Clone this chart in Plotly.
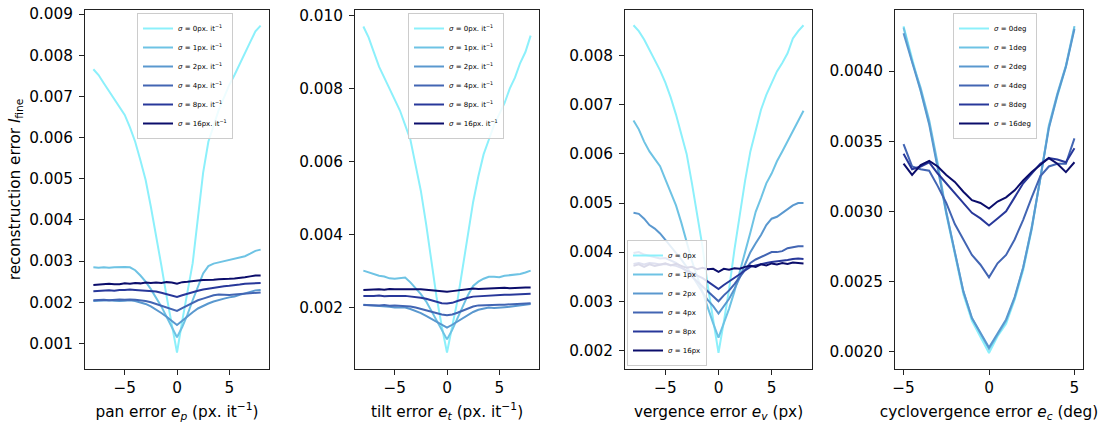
import plotly.graph_objects as go

# ---------------- data ----------------
err_8 = [-8.0, -7.5, -7.0, -6.5, -6.0, -5.5, -5.0, -4.5, -4.0, -3.5, -3.0, -2.5, -2.0, -1.5, -1.0, -0.5,
         0.0, 0.5, 1.0, 1.5, 2.0, 2.5, 3.0, 3.5, 4.0, 4.5, 5.0, 5.5, 6.0, 6.5, 7.0, 7.5, 8.0]
err_5 = [-5.0, -4.5, -4.0, -3.5, -3.0, -2.5, -2.0, -1.5, -1.0, -0.5, 0.0,
         0.5, 1.0, 1.5, 2.0, 2.5, 3.0, 3.5, 4.0, 4.5, 5.0]

sigma_levels = [0, 1, 2, 4, 8, 16]
colors = ['#8cf0fb', '#6ec3e4', '#5a98cf', '#4265b3', '#28389a', '#0b0d6b']

pan_s0 = [0.00766, 0.00752, 0.00732, 0.00712, 0.00695, 0.00675, 0.00655, 0.00625, 0.00590, 0.00545, 0.00497,
          0.00432, 0.00365, 0.00290, 0.00215, 0.00145, 0.00078, 0.00155, 0.00228, 0.00295, 0.00405, 0.00515,
          0.00590, 0.00632, 0.00668, 0.00698, 0.00728, 0.00752, 0.00780, 0.00808, 0.00832, 0.00858, 0.00872]
pan_s1 = [0.00285, 0.00284, 0.00285, 0.00284, 0.00285, 0.00286, 0.00286, 0.00285, 0.00278, 0.00265, 0.00250,
          0.00232, 0.00212, 0.00190, 0.00165, 0.00140, 0.00115, 0.00140, 0.00170, 0.00205, 0.00240, 0.00270,
          0.00288, 0.00294, 0.00297, 0.00300, 0.00303, 0.00305, 0.00308, 0.00312, 0.00318, 0.00325, 0.00328]
pan_s2 = [0.00203, 0.00204, 0.00204, 0.00205, 0.00204, 0.00203, 0.00204, 0.00205, 0.00203, 0.00200, 0.00196,
          0.00190, 0.00183, 0.00174, 0.00165, 0.00155, 0.00145, 0.00155, 0.00166, 0.00176, 0.00185, 0.00192,
          0.00197, 0.00202, 0.00206, 0.00209, 0.00212, 0.00214, 0.00218, 0.00222, 0.00226, 0.00229, 0.00230]
pan_s4 = [0.00205, 0.00206, 0.00206, 0.00205, 0.00206, 0.00207, 0.00206, 0.00207, 0.00206, 0.00205, 0.00203,
          0.00200, 0.00196, 0.00192, 0.00188, 0.00183, 0.00179, 0.00186, 0.00193, 0.00200, 0.00205, 0.00209,
          0.00213, 0.00217, 0.00219, 0.00218, 0.00218, 0.00219, 0.00220, 0.00222, 0.00222, 0.00223, 0.00224]
pan_s8 = [0.00227, 0.00228, 0.00228, 0.00229, 0.00228, 0.00230, 0.00230, 0.00231, 0.00230, 0.00229, 0.00229,
          0.00228, 0.00226, 0.00223, 0.00220, 0.00217, 0.00213, 0.00217, 0.00221, 0.00225, 0.00228, 0.00231,
          0.00233, 0.00236, 0.00238, 0.00239, 0.00240, 0.00241, 0.00243, 0.00245, 0.00246, 0.00247, 0.00247]
pan_s16 = [0.00242, 0.00243, 0.00243, 0.00245, 0.00244, 0.00244, 0.00246, 0.00245, 0.00247, 0.00246, 0.00248,
           0.00247, 0.00248, 0.00247, 0.00249, 0.00248, 0.00245, 0.00249, 0.00250, 0.00252, 0.00253, 0.00254,
           0.00254, 0.00255, 0.00256, 0.00256, 0.00257, 0.00258, 0.00259, 0.00261, 0.00263, 0.00265, 0.00265]

tilt_s0 = [0.00970, 0.00940, 0.00900, 0.00860, 0.00830, 0.00800, 0.00770, 0.00740, 0.00700, 0.00660, 0.00590,
           0.00520, 0.00430, 0.00330, 0.00230, 0.00150, 0.00078, 0.00150, 0.00220, 0.00310, 0.00400, 0.00490,
           0.00560, 0.00620, 0.00660, 0.00700, 0.00730, 0.00760, 0.00800, 0.00830, 0.00870, 0.00900, 0.00945]
tilt_s1 = [0.00302, 0.00297, 0.00293, 0.00288, 0.00286, 0.00281, 0.00280, 0.00281, 0.00283, 0.00270, 0.00255,
           0.00238, 0.00218, 0.00193, 0.00168, 0.00140, 0.00114, 0.00140, 0.00172, 0.00205, 0.00235, 0.00260,
           0.00272, 0.00280, 0.00285, 0.00285, 0.00284, 0.00288, 0.00289, 0.00291, 0.00293, 0.00297, 0.00302]
tilt_s2 = [0.00209, 0.00208, 0.00207, 0.00206, 0.00205, 0.00203, 0.00201, 0.00200, 0.00201, 0.00197, 0.00192,
           0.00186, 0.00178, 0.00170, 0.00162, 0.00154, 0.00146, 0.00154, 0.00163, 0.00172, 0.00181, 0.00189,
           0.00195, 0.00199, 0.00201, 0.00200, 0.00200, 0.00202, 0.00203, 0.00205, 0.00206, 0.00209, 0.00211]
tilt_s4 = [0.00208, 0.00207, 0.00208, 0.00207, 0.00208, 0.00206, 0.00207, 0.00206, 0.00206, 0.00204, 0.00201,
           0.00197, 0.00193, 0.00189, 0.00185, 0.00182, 0.00180, 0.00182, 0.00187, 0.00193, 0.00199, 0.00204,
           0.00207, 0.00208, 0.00209, 0.00208, 0.00209, 0.00209, 0.00210, 0.00209, 0.00211, 0.00211, 0.00213]
tilt_s8 = [0.00233, 0.00232, 0.00233, 0.00234, 0.00232, 0.00233, 0.00234, 0.00233, 0.00233, 0.00232, 0.00231,
           0.00228, 0.00225, 0.00221, 0.00217, 0.00213, 0.00212, 0.00214, 0.00219, 0.00224, 0.00228, 0.00231,
           0.00232, 0.00233, 0.00235, 0.00234, 0.00235, 0.00236, 0.00236, 0.00237, 0.00237, 0.00238, 0.00239]
tilt_s16 = [0.00249, 0.00250, 0.00249, 0.00251, 0.00250, 0.00252, 0.00251, 0.00252, 0.00251, 0.00251, 0.00252,
            0.00251, 0.00250, 0.00249, 0.00248, 0.00246, 0.00244, 0.00246, 0.00248, 0.00250, 0.00251, 0.00253,
            0.00252, 0.00253, 0.00254, 0.00253, 0.00254, 0.00255, 0.00254, 0.00255, 0.00255, 0.00256, 0.00256]

verg_s0 = [0.00862, 0.00850, 0.00833, 0.00812, 0.00790, 0.00770, 0.00745, 0.00715, 0.00680, 0.00642, 0.00600,
           0.00540, 0.00475, 0.00410, 0.00330, 0.00260, 0.00195, 0.00258, 0.00325, 0.00405, 0.00478, 0.00545,
           0.00605, 0.00650, 0.00690, 0.00720, 0.00745, 0.00768, 0.00785, 0.00805, 0.00835, 0.00850, 0.00862]
verg_s1 = [0.00668, 0.00650, 0.00625, 0.00605, 0.00590, 0.00575, 0.00548, 0.00520, 0.00495, 0.00460, 0.00418,
           0.00382, 0.00350, 0.00318, 0.00285, 0.00255, 0.00226, 0.00255, 0.00285, 0.00320, 0.00358, 0.00400,
           0.00440, 0.00482, 0.00510, 0.00540, 0.00560, 0.00585, 0.00605, 0.00625, 0.00645, 0.00665, 0.00688]
verg_s2 = [0.00480, 0.00478, 0.00468, 0.00455, 0.00448, 0.00438, 0.00425, 0.00412, 0.00398, 0.00385, 0.00370,
           0.00352, 0.00335, 0.00318, 0.00302, 0.00290, 0.00275, 0.00290, 0.00305, 0.00325, 0.00348, 0.00375,
           0.00400, 0.00418, 0.00435, 0.00455, 0.00468, 0.00472, 0.00480, 0.00488, 0.00495, 0.00500, 0.00500]
verg_s4 = [0.00398, 0.00400, 0.00395, 0.00392, 0.00390, 0.00387, 0.00388, 0.00383, 0.00378, 0.00370, 0.00360,
           0.00350, 0.00340, 0.00330, 0.00320, 0.00310, 0.00300, 0.00312, 0.00322, 0.00335, 0.00350, 0.00365,
           0.00378, 0.00385, 0.00390, 0.00395, 0.00400, 0.00400, 0.00402, 0.00408, 0.00410, 0.00412, 0.00412]
verg_s8 = [0.00376, 0.00378, 0.00375, 0.00378, 0.00377, 0.00375, 0.00376, 0.00374, 0.00372, 0.00368, 0.00363,
           0.00358, 0.00352, 0.00347, 0.00340, 0.00333, 0.00325, 0.00333, 0.00340, 0.00348, 0.00355, 0.00363,
           0.00370, 0.00373, 0.00376, 0.00378, 0.00380, 0.00381, 0.00383, 0.00384, 0.00386, 0.00387, 0.00386]
verg_s16 = [0.00372, 0.00375, 0.00370, 0.00375, 0.00372, 0.00375, 0.00377, 0.00373, 0.00376, 0.00372, 0.00368,
            0.00370, 0.00365, 0.00368, 0.00365, 0.00366, 0.00360, 0.00366, 0.00364, 0.00367, 0.00366, 0.00370,
            0.00372, 0.00370, 0.00375, 0.00373, 0.00377, 0.00375, 0.00378, 0.00376, 0.00379, 0.00378, 0.00377]

cyc_s0 = [0.00432, 0.00408, 0.00386, 0.00363, 0.00332, 0.00298, 0.00270, 0.00241, 0.00222, 0.00211, 0.00199,
          0.00211, 0.00220, 0.00237, 0.00258, 0.00287, 0.00322, 0.00360, 0.00382, 0.00403, 0.00431]
cyc_s1 = [0.00431, 0.00407, 0.00388, 0.00365, 0.00334, 0.00300, 0.00271, 0.00243, 0.00224, 0.00213, 0.00202,
          0.00212, 0.00222, 0.00238, 0.00260, 0.00289, 0.00323, 0.00361, 0.00384, 0.00404, 0.00432]
cyc_s2 = [0.00427, 0.00406, 0.00386, 0.00362, 0.00331, 0.00299, 0.00271, 0.00243, 0.00224, 0.00214, 0.00203,
          0.00213, 0.00223, 0.00239, 0.00260, 0.00288, 0.00322, 0.00359, 0.00383, 0.00403, 0.00430]
cyc_s4 = [0.00348, 0.00332, 0.00330, 0.00329, 0.00318, 0.00306, 0.00291, 0.00280, 0.00269, 0.00262, 0.00253,
          0.00263, 0.00269, 0.00280, 0.00294, 0.00310, 0.00325, 0.00332, 0.00334, 0.00334, 0.00352]
cyc_s8 = [0.00341, 0.00330, 0.00332, 0.00335, 0.00327, 0.00320, 0.00313, 0.00306, 0.00299, 0.00295, 0.00290,
          0.00295, 0.00300, 0.00310, 0.00320, 0.00327, 0.00334, 0.00338, 0.00337, 0.00335, 0.00345]
cyc_s16 = [0.00334, 0.00326, 0.00333, 0.00336, 0.00332, 0.00326, 0.00321, 0.00314, 0.00308, 0.00306, 0.00302,
           0.00307, 0.00310, 0.00315, 0.00322, 0.00328, 0.00333, 0.00338, 0.00334, 0.00328, 0.00335]

x_titles = ["pan error <i>e</i><sub><i>p</i></sub> (px. it<sup>−1</sup>)",
            "tilt error <i>e</i><sub><i>t</i></sub> (px. it<sup>−1</sup>)",
            "vergence error <i>e</i><sub><i>v</i></sub> (px)",
            "cyclovergence error <i>e</i><sub><i>c</i></sub> (deg)"]
y_title = "reconstruction error <i>l</i><sub>fine</sub>"
unit_labels = ["px. it<sup>−1</sup>", "px. it<sup>−1</sup>", "px", "deg"]

panels = [
    (err_8, [pan_s0, pan_s1, pan_s2, pan_s4, pan_s8, pan_s16]),
    (err_8, [tilt_s0, tilt_s1, tilt_s2, tilt_s4, tilt_s8, tilt_s16]),
    (err_8, [verg_s0, verg_s1, verg_s2, verg_s4, verg_s8, verg_s16]),
    (err_5, [cyc_s0, cyc_s1, cyc_s2, cyc_s4, cyc_s8, cyc_s16]),
]

# ---------------- layout geometry ----------------
# the page body margin is removed by a post script, so screen pixels == figure pixels
W, H = 1106, 426
left_scr, right_scr, top_scr, bottom_scr = 85, 1083, 10, 369
ML = left_scr
MT = top_scr
MR = W - right_scr
MB = H - bottom_scr
PW = W - ML - MR
PH = H - MT - MB
px_left = [85, 355, 625, 895]
px_right = [269, 539, 812, 1083]
x_ranges = [[-8.8, 8.8], [-8.8, 8.8], [-8.8, 8.8], [-5.5, 5.5]]
y_ranges = [[0.00038, 0.00910], [0.00033, 0.01015], [0.00162, 0.00893], [0.001877, 0.004435]]
y_dticks = [0.001, 0.002, 0.001, 0.0005]
y_tick0 = [0.001, 0.002, 0.002, 0.002]
y_formats = [".3f", ".3f", ".3f", ".4f"]
# legend placement (screen pixel coords of a corner)
legend_px = [(137, 13, "top"), (408, 13, "top"), (627, 366, "bottom"), (953, 13, "top")]

font_family = "DejaVu Sans, sans-serif"
FS = 15.3
fig = go.Figure()

for i, (xs, series) in enumerate(panels):
    ax = "" if i == 0 else str(i + 1)
    lg = "legend" if i == 0 else "legend" + str(i + 1)
    for s, ys, col in zip(sigma_levels, series, colors):
        fig.add_trace(go.Scatter(
            x=xs, y=ys, mode="lines",
            line=dict(color=col, width=2),
            name="<i>σ</i> = " + str(s) + unit_labels[i],
            xaxis="x" + ax, yaxis="y" + ax, legend=lg,
        ))

layout = dict(
    width=W, height=H,
    margin=dict(l=ML, r=MR, t=MT, b=MB, pad=0, autoexpand=False),
    paper_bgcolor="white", plot_bgcolor="white",
    font=dict(family=font_family, size=FS, color="black"),
    showlegend=True,
)

for i in range(4):
    ax = "" if i == 0 else str(i + 1)
    d0 = (px_left[i] - left_scr) / PW
    d1 = (px_right[i] - left_scr) / PW
    common = dict(showline=True, linecolor="#222", linewidth=1, mirror=True,
                  ticks="outside", ticklen=5, tickwidth=1, tickcolor="#222",
                  showgrid=False, zeroline=False, automargin=False,
                  ticklabeloverflow="allow",
                  tickfont=dict(family=font_family, size=FS, color="black"))
    xa = dict(common, domain=[d0, min(d1, 1.0)], range=x_ranges[i], dtick=5, tick0=0,
              anchor="y" + ax,
              title=dict(text=x_titles[i], standoff=9,
                         font=dict(family=font_family, size=FS, color="black")))
    ya = dict(common, domain=[0, 1], range=y_ranges[i], dtick=y_dticks[i], tick0=y_tick0[i],
              tickformat=y_formats[i], anchor="x" + ax, ticklabelstandoff=3)
    if i == 0:
        ya["title"] = dict(text=y_title, standoff=4,
                           font=dict(family=font_family, size=FS, color="black"))
    layout["xaxis" + ax] = xa
    layout["yaxis" + ax] = ya

    lx, ly, anchor = legend_px[i]
    lg = "legend" if i == 0 else "legend" + str(i + 1)
    layout[lg] = dict(
        x=(lx - left_scr) / PW, y=(bottom_scr - ly) / PH,
        xanchor="left", yanchor=anchor,
        xref="paper", yref="paper",
        bgcolor="rgba(255,255,255,0.85)", bordercolor="#cccccc", borderwidth=1,
        font=dict(family=font_family, size=7, color="black"),
        itemwidth=30, tracegroupgap=0,
    )

fig.update_layout(**layout)
fig.write_html("out.html",
               config={"displayModeBar": False},
               post_script="document.body.style.margin='0';document.body.style.padding='0';")
